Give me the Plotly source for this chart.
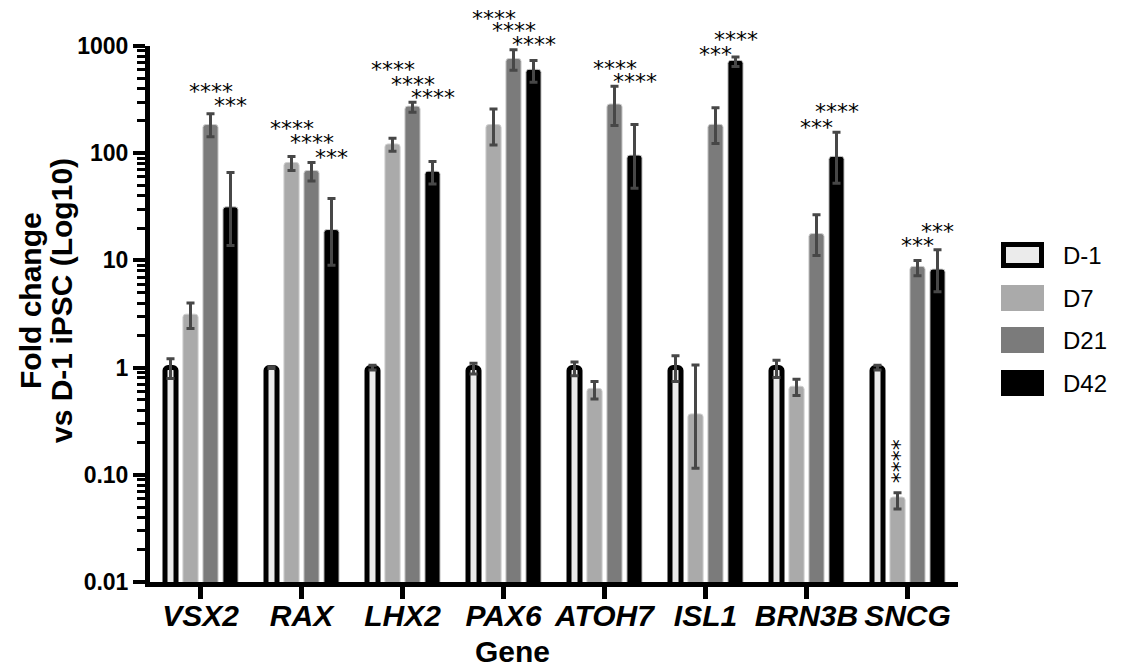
import numpy as np
import plotly.graph_objects as go

# ---------------- data ----------------
genes = ["VSX2", "RAX", "LHX2", "PAX6", "ATOH7", "ISL1", "BRN3B", "SNCG"]
series_names = ["D-1", "D7", "D21", "D42"]

d_minus1 = [1, 1, 1, 1, 1, 1, 1, 1]
d_minus1_err_hi = [0.21, 0.02, 0.05, 0.10, 0.13, 0.29, 0.17, 0.05]
d_minus1_err_lo = [0.21, 0.02, 0.05, 0.13, 0.16, 0.26, 0.19, 0.05]

d7 = [3.15, 82, 122, 185, 0.64, 0.37, 0.67, 0.062]
d7_err_hi = [0.85, 11, 16, 74, 0.10, 0.69, 0.11, 0.006]
d7_err_lo = [0.84, 13, 18, 66, 0.13, 0.255, 0.12, 0.014]

d21 = [185, 69, 275, 765, 288, 186, 17.8, 8.8]
d21_err_hi = [48, 13, 23, 160, 133, 79, 8.9, 1.2]
d21_err_lo = [43, 14, 34, 172, 107, 63, 6.7, 1.6]

d42 = [31.6, 19.4, 68, 606, 96, 736, 93.5, 8.3]
d42_err_hi = [34.4, 18.3, 15.5, 125, 89, 55, 63.5, 4.3]
d42_err_lo = [17.8, 10.4, 16.3, 147, 49, 91, 41, 3.2]

# significance marks and the fold-change level they sit at
d7_stars = ["", "****", "****", "****", "", "", "", "****"]
d7_star_level = [None, 191, 665, 1990, None, None, None, 0.135]
d21_stars = ["****", "****", "****", "****", "****", "***", "***", "***"]
d21_star_level = [415, 139, 492, 1538, 694, 918, 195, 15.2]
d42_stars = ["***", "***", "****", "****", "****", "****", "****", "***"]
d42_star_level = [307, 102, 372, 1161, 514, 1267, 270, 20.5]

y_tickvals = [0.01, 0.1, 1, 10, 100, 1000]
y_ticktext = ["0.01", "0.10", "1", "10", "100", "1000"]
Y_LOG_RANGE = [-2, 3]

# ---------------- styling ----------------
FONT = "Liberation Sans, Arial, sans-serif"
fills = ["#ebebeb", "#aaaaaa", "#7b7b7b", "#000000"]
line_cols = ["#000000", "#cfcfcf", "#cfcfcf", "#cfcfcf"]
line_w = [5, 1, 1, 1]
widths = [0.109, 0.150, 0.150, 0.150]
slot_centers = [-0.297, -0.099, 0.099, 0.297]
ERR_COL = "#474747"

OFF = 8  # page body margin of the html page
W, H = 1128 - OFF, 672 - OFF
ML, MT = 142, 38
PW, PH = 808, 536
MR, MB = W - ML - PW, H - MT - PH


def px_x(px):
    """screen pixel x -> paper x"""
    return (px - OFF - ML) / PW


def px_y(py):
    """screen pixel y -> paper y"""
    return (MT + PH - (py - OFF)) / PH


def val_to_paper(v):
    return (np.log10(v) - Y_LOG_RANGE[0]) / (Y_LOG_RANGE[1] - Y_LOG_RANGE[0])


xpos = list(range(len(genes)))
values = [d_minus1, d7, d21, d42]
errs_hi = [d_minus1_err_hi, d7_err_hi, d21_err_hi, d42_err_hi]
errs_lo = [d_minus1_err_lo, d7_err_lo, d21_err_lo, d42_err_lo]

fig = go.Figure()
for i, name in enumerate(series_names):
    fig.add_trace(go.Bar(
        x=xpos, y=values[i], name=name,
        width=widths[i], offset=slot_centers[i] - widths[i] / 2,
        marker=dict(color=fills[i], line=dict(color=line_cols[i], width=line_w[i]),
                    cornerradius=3),
        error_y=dict(type="data", symmetric=False, array=errs_hi[i],
                     arrayminus=errs_lo[i], color=ERR_COL, thickness=3, width=4),
        showlegend=False,
    ))

annotations = []
STAR_FONT = dict(family="DejaVu Sans", size=22, color="black")
for stars, levels, sc in [(d7_stars, d7_star_level, slot_centers[1]),
                          (d21_stars, d21_star_level, slot_centers[2]),
                          (d42_stars, d42_star_level, slot_centers[3])]:
    for gi, (s, lv) in enumerate(zip(stars, levels)):
        if not s:
            continue
        vertical = lv < 1
        annotations.append(dict(
            x=gi + sc, y=val_to_paper(lv), xref="x", yref="paper", text=s,
            showarrow=False, font=STAR_FONT,
            textangle=90 if vertical else 0,
            xshift=-5 if vertical else 0, yshift=0 if vertical else -5,
            xanchor="center", yanchor="middle"))

# custom legend
leg_top = [242, 285, 327, 370]
for i, name in enumerate(series_names):
    y0, y1 = leg_top[i], leg_top[i] + 26
    if i == 0:
        fig.add_shape(type="rect", xref="paper", yref="paper",
                      x0=px_x(1003.5), x1=px_x(1041.5), y0=px_y(y0 + 2.5), y1=px_y(y1 - 2.5),
                      fillcolor=fills[0], line=dict(color="black", width=5))
    else:
        fig.add_shape(type="rect", xref="paper", yref="paper",
                      x0=px_x(1001), x1=px_x(1044), y0=px_y(y0), y1=px_y(y1),
                      fillcolor=fills[i], line=dict(width=0))
    annotations.append(dict(x=px_x(1061), y=px_y((y0 + y1) / 2), xref="paper", yref="paper",
                            text=name, showarrow=False, xanchor="left", yanchor="middle",
                            font=dict(family=FONT, size=24, color="black")))

# axis titles
for txt, cx in [("Fold change", 30), ("vs D-1 iPSC (Log10)", 61)]:
    annotations.append(dict(x=px_x(cx), y=px_y(301), xref="paper", yref="paper",
                            text="<b>%s</b>" % txt, textangle=-90,
                            showarrow=False, xanchor="center", yanchor="middle",
                            font=dict(family=FONT, size=30, color="black")))
annotations.append(dict(x=px_x(512), y=px_y(651), xref="paper", yref="paper",
                        text="<b>Gene</b>", showarrow=False, xanchor="center", yanchor="middle",
                        font=dict(family=FONT, size=30, color="black")))

fig.update_layout(
    width=W, height=H,
    margin=dict(l=ML, r=MR, t=MT, b=MB, autoexpand=False),
    paper_bgcolor="white", plot_bgcolor="white",
    barmode="overlay",
    annotations=annotations,
    font=dict(family=FONT, color="black"),
)
fig.update_xaxes(
    range=[-0.5, 7.5], tickmode="array", tickvals=xpos, ticktext=genes,
    showgrid=False, zeroline=False, showline=True, linecolor="black", linewidth=5,
    ticks="outside", ticklen=12, tickwidth=5, tickcolor="black",
    ticklabelstandoff=-9,
    tickfont=dict(family=FONT, size=30, weight="bold", style="italic", color="black"),
)
fig.update_yaxes(
    type="log", range=Y_LOG_RANGE, tickmode="array", tickvals=y_tickvals, ticktext=y_ticktext,
    showgrid=False, zeroline=False, showline=True, linecolor="black", linewidth=5,
    ticks="outside", ticklen=12, tickwidth=4, tickcolor="black",
    tickfont=dict(family=FONT, size=23, weight="bold", color="black"),
    minor=dict(ticks="outside", ticklen=8, tickwidth=3, tickcolor="black", dtick="D1",
               showgrid=False),
)

fig.write_html("out.html")
